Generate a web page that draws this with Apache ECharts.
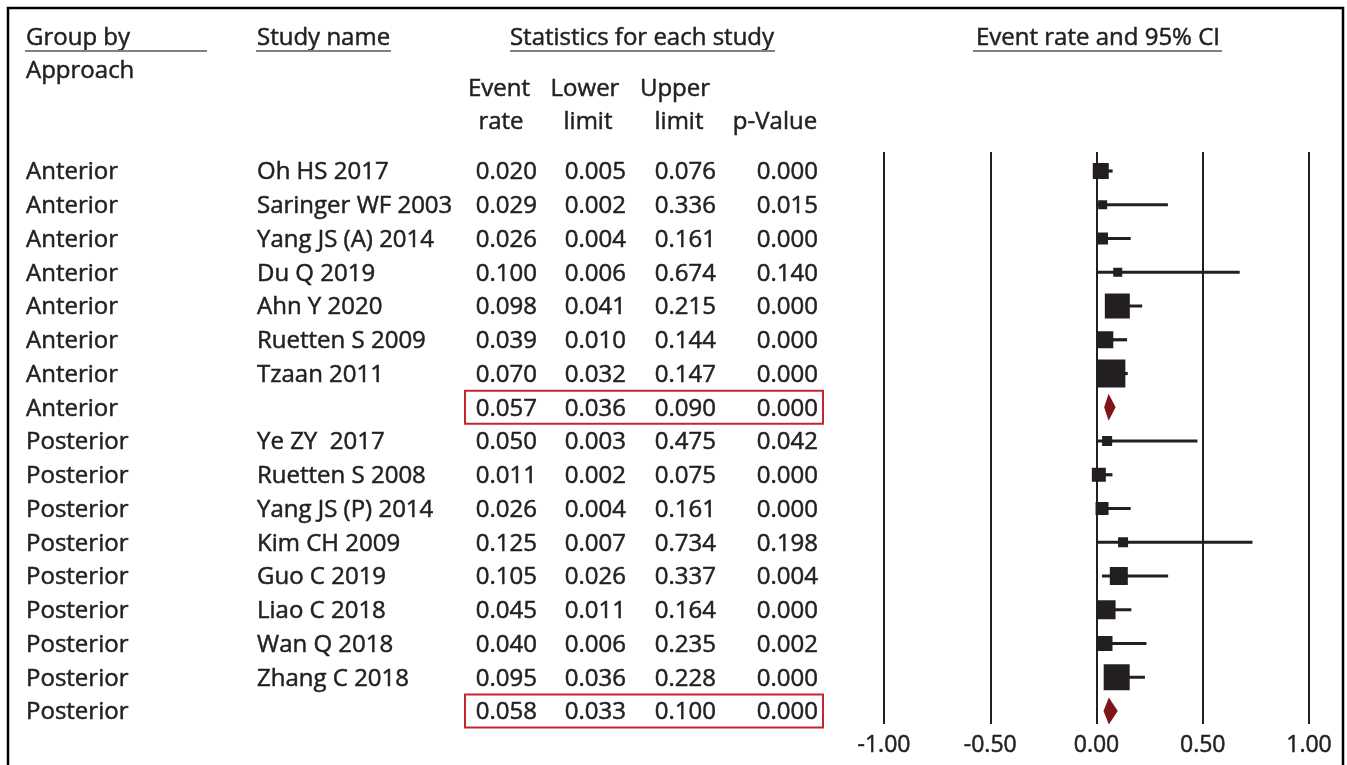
<!DOCTYPE html>
<html>
<head>
<meta charset="utf-8">
<script src="https://cdn.jsdelivr.net/npm/echarts@6/dist/echarts.min.js"></script>
<style>
html,body{margin:0;padding:0;background:#fff;}
#chart{width:1347px;height:765px;}
</style>
</head>
<body>
<div id="chart"></div>
<script>
// ---- data ----
const groups = ['Anterior','Anterior','Anterior','Anterior','Anterior','Anterior','Anterior','Anterior',
  'Posterior','Posterior','Posterior','Posterior','Posterior','Posterior','Posterior','Posterior','Posterior'];
const studies = ['Oh HS 2017','Saringer WF 2003','Yang JS (A) 2014','Du Q 2019','Ahn Y 2020','Ruetten S 2009','Tzaan 2011','',
  'Ye ZY  2017','Ruetten S 2008','Yang JS (P) 2014','Kim CH 2009','Guo C 2019','Liao C 2018','Wan Q 2018','Zhang C 2018',''];
const eventRate = [0.020,0.029,0.026,0.100,0.098,0.039,0.070,0.057,0.050,0.011,0.026,0.125,0.105,0.045,0.040,0.095,0.058];
const lowerLimit = [0.005,0.002,0.004,0.006,0.041,0.010,0.032,0.036,0.003,0.002,0.004,0.007,0.026,0.011,0.006,0.036,0.033];
const upperLimit = [0.076,0.336,0.161,0.674,0.215,0.144,0.147,0.090,0.475,0.075,0.161,0.734,0.337,0.164,0.235,0.228,0.100];
const pValue = ['0.000','0.015','0.000','0.140','0.000','0.000','0.000','0.000','0.042','0.000','0.000','0.198','0.004','0.000','0.002','0.000','0.000'];
const isSummary = [0,0,0,0,0,0,0,1,0,0,0,0,0,0,0,0,1];
const studyWeight = [16,9,12,9,25,17,28,0,10,14,13,10,18,19,15,26,0];
const xTicks = [-1,-0.5,0,0.5,1];

// ---- chart ----
const FONT = '"Open Sans", "Noto Sans", sans-serif';
const INK = '#231f20';
const FS = 24;
const DY = 1.5;
const chart = echarts.init(document.getElementById('chart'), null, {renderer:'canvas'});

const rows = eventRate.map((v,i)=>[v, i, lowerLimit[i], upperLimit[i]]);

function txt(x, y, s, align){
  return {type:'text', silent:true, style:{x:x, y:y+DY, text:s, fill:INK, stroke:INK, lineWidth:0.5,
    font:FS+'px '+FONT, align:align||'left', verticalAlign:'middle'}};
}

function renderItem(params, api){
  const i = params.dataIndex;
  const rate = api.value(0), row = api.value(1), lo = api.value(2), hi = api.value(3);
  const c = api.coord([rate, row]);
  const y = c[1];
  const pl = api.coord([lo, row])[0];
  const ph = api.coord([hi, row])[0];
  const ch = [];
  ch.push(txt(26, y, groups[i]));
  ch.push(txt(257, y, studies[i]));
  ch.push(txt(537, y, rate.toFixed(3), 'right'));
  ch.push(txt(626, y, lo.toFixed(3), 'right'));
  ch.push(txt(716, y, hi.toFixed(3), 'right'));
  ch.push(txt(818, y, pValue[i], 'right'));
  if (isSummary[i]) {
    ch.push({type:'rect', silent:true, shape:{x:465, y:y-16.5, width:358, height:33},
      style:{fill:'none', stroke:'#c1272d', lineWidth:2}});
    ch.push({type:'polygon', silent:true, shape:{points:[[pl,y],[c[0],y-13.5],[ph,y],[c[0],y+13.5]]},
      style:{fill:'#7f1518'}});
  } else {
    ch.push({type:'line', silent:true, shape:{x1:pl, y1:y, x2:ph, y2:y},
      style:{stroke:INK, lineWidth:3.2}});
    const s = studyWeight[i];
    ch.push({type:'rect', silent:true, shape:{x:c[0]-s/2, y:y-s/2, width:s, height:s},
      style:{fill:INK}});
  }
  return {type:'group', children:ch};
}

function hdr(x, y, s, align){
  return txt(x, y, s, align);
}
function uline(x1, x2, y){
  return {type:'line', silent:true, shape:{x1:x1,y1:y,x2:x2,y2:y}, style:{stroke:'#808080', lineWidth:2}};
}

const option = {
  backgroundColor:'#fff',
  animation:false,
  grid:{left:884, right:38, top:152, height:572},
  xAxis:{type:'value', min:-1, max:1, interval:0.5,
    axisLine:{show:false}, axisTick:{show:false},
    axisLabel:{formatter:v=>v.toFixed(2), color:INK, fontSize:FS-1, fontFamily:FONT, margin:10,
      textBorderColor:INK, textBorderWidth:0.5},
    splitLine:{show:true, lineStyle:{color:INK, width:2}}},
  yAxis:{type:'value', min:-0.563, max:16.385, inverse:true, show:false, splitLine:{show:false}},
  graphic:[
    {type:'rect', silent:true, shape:{x:8, y:8, width:1335, height:800}, style:{fill:'none', stroke:'#000', lineWidth:2.5}},
    hdr(26, 37, 'Group by'), uline(25, 207, 51),
    hdr(26, 70, 'Approach'),
    hdr(257, 37, 'Study name'), uline(256, 391, 51),
    hdr(642, 37, 'Statistics for each study', 'center'), uline(510, 775, 51),
    hdr(1098, 37, 'Event rate and 95% CI', 'center'), uline(973, 1222, 51),
    hdr(499, 88, 'Event', 'center'), hdr(501, 121, 'rate', 'center'),
    hdr(585, 88, 'Lower', 'center'), hdr(588, 121, 'limit', 'center'),
    hdr(675, 88, 'Upper', 'center'), hdr(679, 121, 'limit', 'center'),
    hdr(775, 121, 'p-Value', 'center')
  ],
  series:[{
    type:'custom', clip:false, renderItem:renderItem, data:rows,
    encode:{x:0, y:1}, silent:true
  }]
};
chart.setOption(option);
</script>
</body>
</html>
